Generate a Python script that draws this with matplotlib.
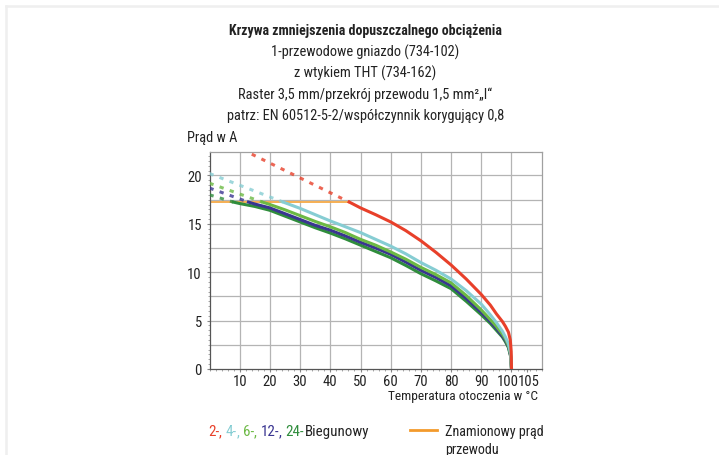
import matplotlib
matplotlib.use("Agg")
import matplotlib.pyplot as plt
from matplotlib import font_manager
from matplotlib.ticker import MultipleLocator
from matplotlib.lines import Line2D

# wąska czcionka, jeśli jest; inaczej Roboto w mniejszym rozmiarze
try:
    font_manager.findfont('Roboto Condensed', fallback_to_default=False)
    plt.rcParams['font.family'] = ['Roboto Condensed', 'DejaVu Sans']
    k = 1.0
except ValueError:
    plt.rcParams['font.family'] = ['Roboto', 'DejaVu Sans']
    k = 0.86

# temperatura [°C] / prąd [A]
t_2 = [46.3, 50, 55, 60, 65, 70, 75, 80, 85, 90, 93, 95, 97, 98, 99, 99.6, 99.9, 100]
i_2 = [17.25, 16.65, 15.95, 15.2, 14.3, 13.25, 12.05, 10.75, 9.3, 7.7, 6.6, 5.7, 4.9, 4.4, 3.8, 3.0, 1.8, 0]
t_4 = [24.4, 30, 35, 40, 45, 50, 55, 60, 65, 70, 75, 80, 85, 90, 93, 95, 97, 98, 99, 99.7, 100]
i_4 = [17.25, 16.6, 15.95, 15.3, 14.7, 14.1, 13.4, 12.7, 11.9, 11.0, 10.2, 9.3, 8.1, 6.7, 5.6, 4.8, 3.9, 3.3, 2.6, 1.6, 0]
t_6 = [17.5, 20, 25, 30, 35, 40, 45, 50, 55, 60, 65, 70, 75, 80, 85, 90, 93, 95, 97, 98, 99, 99.7, 100]
i_6 = [17.25, 17.0, 16.45, 15.85, 15.25, 14.7, 14.1, 13.4, 12.8, 12.1, 11.35, 10.5, 9.75, 8.9, 7.6, 6.1, 5.1, 4.4, 3.6, 3.1, 2.4, 1.5, 0]
t_12 = [12.9, 15, 20, 25, 30, 35, 40, 45, 50, 55, 60, 65, 70, 75, 80, 85, 90, 93, 95, 97, 98, 99, 99.7, 100]
i_12 = [17.25, 17.05, 16.65, 16.05, 15.45, 14.85, 14.35, 13.75, 13.1, 12.5, 11.85, 11.05, 10.2, 9.45, 8.6, 7.3, 5.85, 4.9, 4.2, 3.4, 2.95, 2.3, 1.4, 0]
t_24 = [7.9, 10, 15, 20, 25, 30, 35, 40, 45, 50, 55, 60, 65, 70, 75, 80, 85, 90, 93, 95, 97, 98, 99, 99.7, 100]
i_24 = [17.25, 17.1, 16.8, 16.4, 15.8, 15.2, 14.6, 14.05, 13.45, 12.8, 12.15, 11.5, 10.7, 9.85, 9.1, 8.3, 7.0, 5.6, 4.7, 4.0, 3.3, 2.8, 2.2, 1.3, 0]

# przedłużenia przerywane
dt_2, di_2 = [14, 46.3], [22.2, 17.25]
dt_4, di_4 = [0, 24.4], [20.2, 17.25]
dt_6, di_6 = [0, 17.5], [19.2, 17.25]
dt_12, di_12 = [0, 12.9], [18.7, 17.25]
dt_24, di_24 = [0, 7.9], [18.0, 17.25]

rated_t = [0, 46.3]
rated_i = [17.25, 17.25]

xticks = [10, 20, 30, 40, 50, 60, 70, 80, 90, 100, 105]
labels = ['2-', '4-', '6-', '12-', '24-']
colors = ['#e8402a', '#86cdd3', '#6cb944', '#3a3591', '#2f8d3c']
orange = '#f39a2c'
txt_c = '#222222'

fig = plt.figure(figsize=(7.19, 4.56), dpi=100)
ax = fig.add_axes([0.2914, 0.1886, 0.462, 0.4753])

ax.plot(rated_t, rated_i, color='#f5a947', lw=1.3, zorder=2)
solid = [(t_2, i_2), (t_4, i_4), (t_6, i_6), (t_12, i_12), (t_24, i_24)]
dashed = [(dt_2, di_2), (dt_4, di_4), (dt_6, di_6), (dt_12, di_12), (dt_24, di_24)]
for (t, i), (dt, di), c in zip(solid[::-1], dashed[::-1], colors[::-1]):
    ax.plot(t, i, color=c, lw=2.2, solid_joinstyle='round', zorder=3)
    ax.plot(dt, di, color=c, lw=2.2, alpha=0.8, dashes=(1.4, 2.1), zorder=3)

ax.set_xlim(0, 110)
ax.set_ylim(0, 22.4)
ax.set_xticks(xticks)
# 100 i 105 stoją ciasno - podpisy dopisane niżej z przesunięciem
ax.set_xticklabels([str(v) for v in xticks[:-2]] + ['', ''])
ax.set_yticks([0, 5, 10, 15, 20])
ax.xaxis.set_minor_locator(MultipleLocator(2))
ax.yaxis.set_minor_locator(MultipleLocator(0.5))
for y in [2.5, 5, 7.5, 10, 12.5, 15, 17.5, 20]:
    ax.axhline(y, color='#b4b4b4', lw=0.9, zorder=1)
for x in range(10, 101, 10):
    ax.axvline(x, color='#b4b4b4', lw=0.9, zorder=1)
ax.tick_params(which='major', length=2.5, color='#888888', labelsize=10.5 * k,
               labelcolor=txt_c, pad=1)
ax.tick_params(axis='y', pad=3)
ax.tick_params(which='minor', length=1.5, color='#999999')
for v, dx in zip(xticks[-2:], [-2.8, 1.9]):
    ax.annotate(str(v), xy=(v, 0), xycoords=('data', 'axes fraction'),
                xytext=(dx, -3.5), textcoords='offset points', ha='center',
                va='top', fontsize=10.5 * k, color=txt_c)
for s in ax.spines.values():
    s.set_color('#a0a0a0')
    s.set_linewidth(0.9)
ax.spines['left'].set_color('#555555')
ax.spines['bottom'].set_color('#555555')

# tytuł
fig.text(0.508, 1 - 31 / 456, 'Krzywa zmniejszenia dopuszczalnego obciążenia',
         ha='center', va='center', fontsize=10 * k, fontweight='bold', color=txt_c)
lines = ['1-przewodowe gniazdo (734-102)',
         'z wtykiem THT (734-162)',
         'Raster 3,5 mm/przekrój przewodu 1,5 mm\u00b2\u201e\u0049\u201c',
         'patrz: EN 60512-5-2/współczynnik korygujący 0,8']
for n, s in enumerate(lines):
    fig.text(0.508, 1 - (52 + 21.3 * n) / 456, s, ha='center', va='center',
             fontsize=10.4 * k, color=txt_c)
fig.text(187 / 719, 1 - 138 / 456, 'Prąd w A', ha='left', va='center',
         fontsize=10.4 * k, color=txt_c)
fig.text(538 / 719, 1 - 397 / 456, 'Temperatura otoczenia w °C', ha='right',
         va='center', fontsize=9.6 * k, color=txt_c)

# legenda
parts = []
for lab, c in zip(labels, colors):
    parts.append((lab, c))
    if lab != labels[-1]:
        parts.append((', ', c))
parts.append(('Biegunowy', txt_c))
fig.canvas.draw()
renderer = fig.canvas.get_renderer()
x0 = 208
for s, c in parts:
    t = fig.text(x0 / 719, 1 - 432 / 456, s, color=c, fontsize=10.8 * k, va='center')
    x0 += t.get_window_extent(renderer=renderer).width
fig.add_artist(Line2D([410 / 719, 437 / 719], [1 - 431 / 456] * 2,
                      color=orange, lw=2))
fig.text(445 / 719, 1 - 432 / 456, 'Znamionowy prąd', fontsize=10.2 * k,
         va='center', color=txt_c)
fig.text(445 / 719, 1 - 450 / 456, 'przewodu', fontsize=10.2 * k,
         va='center', color=txt_c)

# ramka
fig.add_artist(Line2D([6 / 719, 1], [1 - 7 / 456] * 2, color='#efefef', lw=1.8))
fig.add_artist(Line2D([6 / 719] * 2, [0, 1 - 7 / 456], color='#efefef', lw=1.8))

fig.savefig('out.png', dpi=100)
